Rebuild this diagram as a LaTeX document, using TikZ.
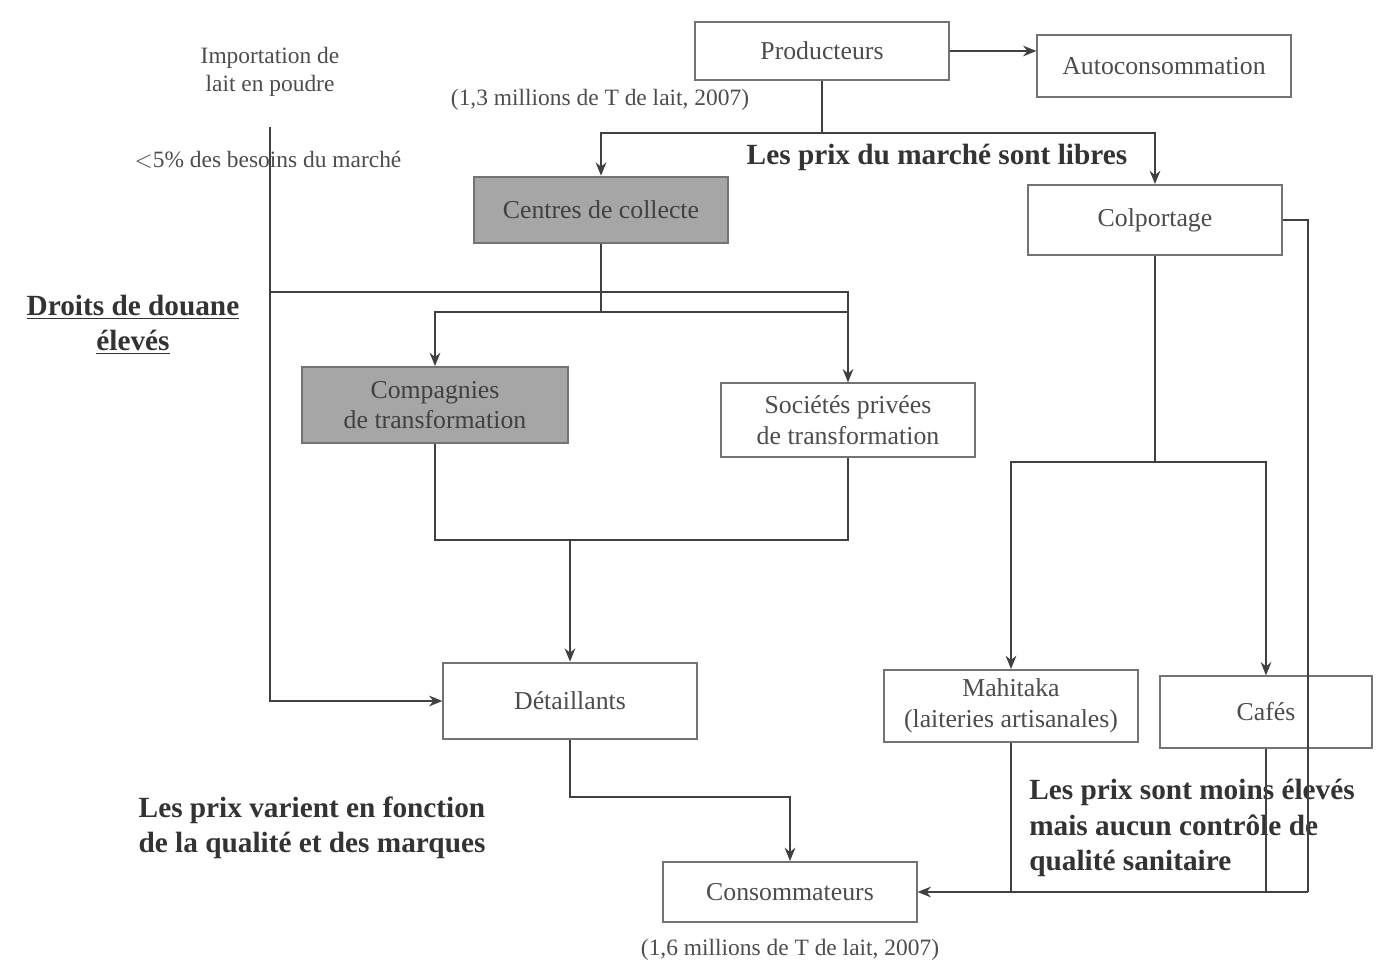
\documentclass[tikz,border=0pt]{standalone}
\usepackage{fontspec}
\setmainfont{Liberation Serif}
\usepackage{xcolor}
\usepackage{tikz}
\usetikzlibrary{positioning,arrows.meta}

\begin{document}
\begin{tikzpicture}[
		x=0.015cm, y=-0.015cm,
		block/.style={rectangle, draw=black!55, fill=white, thick, text=black!70, font=\fontsize{11}{13}\selectfont, align=center, minimum width=3.8cm, minimum height=1cm, inner sep=2pt},
		shaded/.style={block, fill=black!35, text=black!75},
		note/.style={text=black!70, font=\fontsize{10}{12}\selectfont, align=center},
		remark/.style={text=black!80, font=\fontsize{12.5}{15}\selectfont\bfseries, align=center},
		link/.style={draw=black!75, thick},
		flow/.style={link, -{Stealth[length=2mm, width=1.6mm]}},
		]
		\useasboundingbox (0,0) rectangle (1376,963);

		%Main Nodes
		\node[block, minimum height=0.87cm]	(prod)		at (822,51)		{Producteurs};
		\node[block, minimum height=0.93cm]	(auto)		at (1164,66)	{Autoconsommation};
		\node[shaded]						(collecte)	at (601,210)	{Centres de collecte};
		\node[block, minimum height=1.05cm]	(colport)	at (1155,220)	{Colportage};
		\node[shaded, minimum width=3.98cm, minimum height=1.14cm]	(compagnies)	at (435,405)	{Compagnies\\de transformation};
		\node[block, minimum height=1.1cm]	(societes)	at (848,420)	{Sociétés privées\\de transformation};
		\node[block, minimum height=1.15cm]	(detail)	at (570,701)	{Détaillants};
		\node[block, minimum height=1.08cm]	(mahitaka)	at (1011,706)	{Mahitaka\\(laiteries artisanales)};
		\node[block, minimum width=3.18cm, minimum height=1.07cm]	(cafes)	at (1266,712)	{Cafés};
		\node[block, minimum height=0.9cm]	(conso)		at (790,892)	{Consommateurs};

		%Notes
		\node[note]		(import)	at (270,72)		{Importation de\\lait en poudre};
		\node[note]		(besoins)	at (268,160)	{$<$5\% des besoins du marché};
		\node[note]		(prod_qty)	at (600,100)	{(1,3 millions de T de lait, 2007)};
		\node[note]		(conso_qty)	at (790,950)	{(1,6 millions de T de lait, 2007)};
		\node[remark]	(libres)	at (937,157)	{Les prix du marché sont libres};
		\node[remark]	(douane)	at (133,325)	{\underline{Droits de douane}\\\underline{élevés}};
		\node[remark]	(qualite)	at (312,828)	{Les prix varient en fonction\\de la qualité et des marques};
		\node[remark, align=left]	(sanitaire)	at (1192,828)	{Les prix sont moins élevés\\mais aucun contrôle de\\qualité sanitaire};

		%Junctions
		\coordinate	(split)		at (822,133);
		\coordinate	(imp_j)		at (270,292);
		\coordinate	(bus_c)		at (601,312);
		\coordinate	(merge)		at (570,540);
		\coordinate	(det_j)		at (790,797);
		\coordinate	(col_j)		at (1155,462);
		\coordinate	(ret_r)		at (1308,892);

		%Producteurs
		\draw[flow]	(prod.east)		--	(prod.east -| auto.west);
		\draw[link]	(prod.south)	--	(split);
		\draw[flow]	(split)			-|	(collecte.north);
		\draw[flow]	(split)			-|	(colport.north);

		%Importation
		\draw[flow]	(import.south)	++(0,22)	|-	(detail.west);
		\draw[link]	(imp_j)			-|	(bus_c -| societes.north);

		%Transformation
		\draw[link]	(collecte.south)	--	(bus_c);
		\draw[flow]	(bus_c)		-|	(compagnies.north);
		\draw[flow]	(bus_c)		-|	(societes.north);
		\draw[link]	(compagnies.south)	|-	(merge);
		\draw[link]	(societes.south)	|-	(merge);
		\draw[flow]	(merge)		--	(detail.north);
		\draw[flow]	(detail.south)	|-	(det_j)	--	(conso.north);

		%Colportage
		\draw[link]	(colport.south)	--	(col_j);
		\draw[flow]	(col_j)		-|	(mahitaka.north);
		\draw[flow]	(col_j)		-|	(cafes.north);
		\draw[link]	(colport.east)	-|	(ret_r);
		\draw[link]	(mahitaka.south)	--	(mahitaka.south |- conso.east);
		\draw[link]	(cafes.south)	--	(cafes.south |- conso.east);
		\draw[flow]	(ret_r)		--	(conso.east);

	\end{tikzpicture}
\end{document}
